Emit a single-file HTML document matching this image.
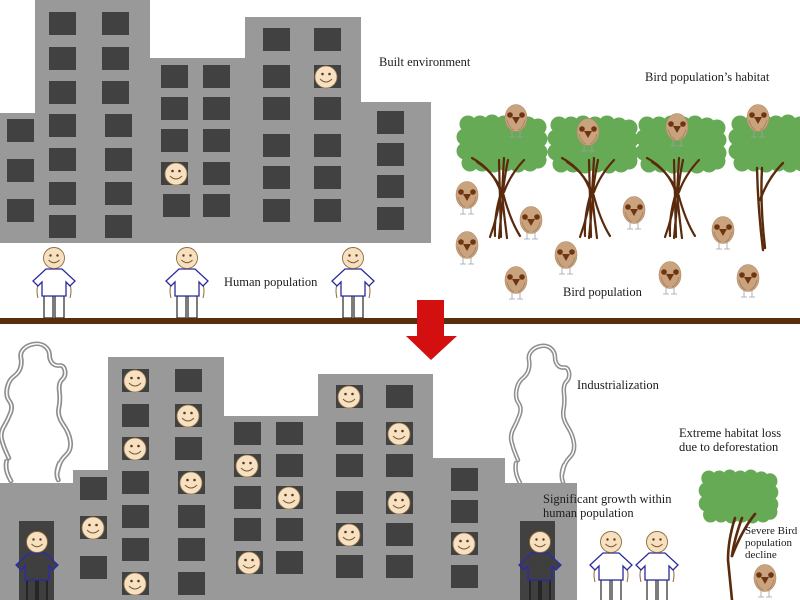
<!DOCTYPE html>
<html><head><meta charset="utf-8"><style>
html,body{margin:0;padding:0;background:#fff;}
svg{display:block;}
text{font-family:"Liberation Serif",serif;font-size:12.5px;fill:#1c1c1c;}
</style></head><body>
<svg width="800" height="600" viewBox="0 0 800 600" xmlns="http://www.w3.org/2000/svg">
<defs>
<g id="face">
<circle r="11" fill="#f7e1c2" stroke="#9a7a4a" stroke-width="0.8"/>
<circle cx="-3.5" cy="-3" r="1.3" fill="#5a3a1a"/><circle cx="3.5" cy="-3" r="1.3" fill="#5a3a1a"/>
<path d="M-6,2 Q0,8 6,2" fill="none" stroke="#7a5a30" stroke-width="1"/>
</g>
<g id="human">
<path d="M-16,26 Q-18,33 -16,40 M16,26 Q18,33 16,40" fill="none" stroke="#8a6a30" stroke-width="1"/>
<rect x="-10" y="38" width="9" height="22" fill="#fff" stroke="#111" stroke-width="1.1"/>
<rect x="1" y="38" width="9" height="22" fill="#fff" stroke="#111" stroke-width="1.1"/>
<polygon points="-8,11 8,11 21,23 16,28 12,24 12,38 -12,38 -12,24 -16,28 -21,23" fill="#fff" stroke="#2a2aa0" stroke-width="1.3"/>
<circle r="10.5" fill="#f7e0c0" stroke="#8a6a3a" stroke-width="0.9"/>
<circle cx="-3.5" cy="-2.5" r="1.2" fill="#5a3a1a"/><circle cx="3.5" cy="-2.5" r="1.2" fill="#5a3a1a"/>
<path d="M-5.5,2 Q0,7.5 5.5,2" fill="none" stroke="#7a5a30" stroke-width="1"/>
</g>
<g id="humandark">
<rect x="-10" y="38" width="9" height="22" fill="#3f3f3f" stroke="#111" stroke-width="1.1"/>
<rect x="1" y="38" width="9" height="22" fill="#3f3f3f" stroke="#111" stroke-width="1.1"/>
<polygon points="-8,11 8,11 21,23 16,28 12,24 12,38 -12,38 -12,24 -16,28 -21,23" fill="#3f3f3f" stroke="#2a2ab0" stroke-width="1.3"/>
<circle r="10.5" fill="#f7e0c0" stroke="#8a6a3a" stroke-width="0.9"/>
<circle cx="-3.5" cy="-2.5" r="1.2" fill="#5a3a1a"/><circle cx="3.5" cy="-2.5" r="1.2" fill="#5a3a1a"/>
<path d="M-5.5,2 Q0,7.5 5.5,2" fill="none" stroke="#7a5a30" stroke-width="1"/>
</g>
<g id="bird">
<path d="M-4,12 L-4,19 M4,12 L4,19 M-7,19 L-1,19 M1,19 L7,19" stroke="#9aa0a8" stroke-width="0.8" fill="none"/>
<ellipse rx="11" ry="13.5" fill="#c9a27e" stroke="#b08a66" stroke-width="0.6"/>
<path d="M-9,2 Q-7,10 -2,12 M9,2 Q7,10 2,12" fill="none" stroke="#a87f5c" stroke-width="0.8"/>
<circle cx="-6" cy="-3" r="2.8" fill="#6e3510"/><circle cx="6" cy="-3" r="2.8" fill="#6e3510"/>
<polygon points="-4,-1 4,-1 0,6" fill="#6e3510"/>
</g>
<g id="crown" fill="#67aa55">
<rect x="6" y="8" width="76" height="42"/>
<circle cx="10" cy="9" r="8.5"/><circle cx="22" cy="9" r="8.5"/><circle cx="34" cy="8" r="8.5"/><circle cx="46" cy="9" r="8.5"/><circle cx="58" cy="8" r="8.5"/><circle cx="70" cy="10" r="8.5"/><circle cx="80" cy="12" r="8.5"/>
<circle cx="7" cy="22" r="8.5"/><circle cx="7" cy="36" r="8.5"/><circle cx="81" cy="24" r="8.5"/><circle cx="81" cy="37" r="8.5"/>
<circle cx="12" cy="48" r="8.5"/><circle cx="24" cy="48" r="8.5"/><circle cx="36" cy="49" r="8.5"/><circle cx="48" cy="48" r="8.5"/><circle cx="60" cy="49" r="8.5"/><circle cx="72" cy="48" r="8.5"/><circle cx="80" cy="45" r="8.5"/>
</g>
<g id="trunk" fill="none" stroke="#5a2a0c" stroke-width="2.2" stroke-linecap="round">
<path d="M-30,158 Q-8,170 -1,193 Q-4,215 -12,237"/>
<path d="M-25,162 Q-5,175 1,195 L-3,238"/>
<path d="M2,158 L0,193 Q2,215 5,238"/>
<path d="M6,160 Q2,180 1,193 Q8,220 18,236"/>
<path d="M22,160 Q8,175 2,192"/>
<path d="M-3,160 L-1,237"/>
<path d="M-1,193 Q-8,215 -7,236"/>
</g>
<path id="smokepath" d="M518,460 L515.5,454 Q513,448 511.5,441.5 Q510,435 513.5,428.5 Q517,422 519.5,415 Q522,408 518.5,403 Q515,398 516.5,390 Q518,382 522.5,378.5 Q527,375 528.5,370 Q530,365 529,360 Q528,355 531.5,351 Q535,347 541,346 Q547,345 551,348.5 Q555,352 555,357 Q555,362 557.5,365 Q560,368 564,367.5 Q568,367 569,372.5 Q570,378 566.5,381.5 Q563,385 564,393.5 Q565,402 563.5,410 Q562,418 567.5,426.5 Q573,435 574,443.5 Q575,452 570,457 Q565,462 563.5,468.5 L562,475 M516,463 Q514,472 520,483 M564,465 Q560,475 563,482"/>
<g id="smoke">
<use href="#smokepath" fill="none" stroke="#8f8f8f" stroke-width="4.5" stroke-linejoin="round" stroke-linecap="round"/>
<use href="#smokepath" fill="none" stroke="#fff" stroke-width="1.4" stroke-linejoin="round" stroke-linecap="round"/>
</g>
</defs>

<!-- TOP SECTION -->
<polygon points="0,113 35,113 35,0 150,0 150,58 245,58 245,17 361,17 361,102 431,102 431,243 0,243" fill="#999999"/>
<g fill="#414141">
<rect x="49" y="12" width="27" height="23"/><rect x="49" y="47" width="27" height="23"/><rect x="49" y="81" width="27" height="23"/><rect x="49" y="114" width="27" height="23"/><rect x="49" y="148" width="27" height="23"/><rect x="49" y="182" width="27" height="23"/><rect x="49" y="215" width="27" height="23"/>
<rect x="102" y="12" width="27" height="23"/><rect x="102" y="47" width="27" height="23"/><rect x="102" y="81" width="27" height="23"/><rect x="105" y="114" width="27" height="23"/><rect x="105" y="148" width="27" height="23"/><rect x="105" y="182" width="27" height="23"/><rect x="105" y="215" width="27" height="23"/>
<rect x="7" y="119" width="27" height="23"/><rect x="7" y="159" width="27" height="23"/><rect x="7" y="199" width="27" height="23"/>
<rect x="161" y="65" width="27" height="23"/><rect x="161" y="97" width="27" height="23"/><rect x="161" y="129" width="27" height="23"/><rect x="161" y="162" width="27" height="23"/><rect x="163" y="194" width="27" height="23"/>
<rect x="203" y="65" width="27" height="23"/><rect x="203" y="97" width="27" height="23"/><rect x="203" y="129" width="27" height="23"/><rect x="203" y="162" width="27" height="23"/><rect x="203" y="194" width="27" height="23"/>
<rect x="263" y="28" width="27" height="23"/><rect x="263" y="65" width="27" height="23"/><rect x="263" y="97" width="27" height="23"/><rect x="263" y="134" width="27" height="23"/><rect x="263" y="166" width="27" height="23"/><rect x="263" y="199" width="27" height="23"/>
<rect x="314" y="28" width="27" height="23"/><rect x="314" y="65" width="27" height="23"/><rect x="314" y="97" width="27" height="23"/><rect x="314" y="134" width="27" height="23"/><rect x="314" y="166" width="27" height="23"/><rect x="314" y="199" width="27" height="23"/>
<rect x="377" y="111" width="27" height="23"/><rect x="377" y="143" width="27" height="23"/><rect x="377" y="175" width="27" height="23"/><rect x="377" y="207" width="27" height="23"/>
</g>
<use href="#face" x="176" y="174"/>
<use href="#face" x="326" y="77"/>

<use href="#human" x="54" y="258"/>
<use href="#human" x="187" y="258"/>
<use href="#human" x="353" y="258"/>

<text x="379" y="66">Built environment</text>
<text x="224" y="286">Human population</text>
<text x="645" y="81">Bird population’s habitat</text>
<text x="563" y="296">Bird population</text>

<!-- trees -->
<use href="#crown" x="458" y="115"/>
<use href="#crown" x="549" y="116"/>
<use href="#crown" x="637" y="116"/>
<use href="#crown" x="730" y="115"/>
<use href="#trunk" x="502" y="0"/>
<use href="#trunk" x="592" y="0"/>
<use href="#trunk" x="677" y="0"/>
<g fill="none" stroke="#5a2a0c" stroke-width="2.4" stroke-linecap="round">
<path d="M757,168 Q758,210 763,250"/>
<path d="M762,168 Q760,205 765,248"/>
<path d="M783,163 Q768,178 760,200"/>
</g>

<!-- birds -->
<use href="#bird" x="516" y="118"/>
<use href="#bird" x="588" y="132"/>
<use href="#bird" x="677" y="127"/>
<use href="#bird" x="758" y="118"/>
<use href="#bird" x="467" y="195"/>
<use href="#bird" x="531" y="220"/>
<use href="#bird" x="467" y="245"/>
<use href="#bird" x="566" y="255"/>
<use href="#bird" x="516" y="280"/>
<use href="#bird" x="634" y="210"/>
<use href="#bird" x="723" y="230"/>
<use href="#bird" x="670" y="275"/>
<use href="#bird" x="748" y="278"/>

<!-- divider + arrow -->
<rect x="0" y="318" width="800" height="6" fill="#5a2e0b"/>
<polygon points="417,300 444,300 444,336 457,336 431,360 406,336 417,336" fill="#d40f10"/>

<!-- BOTTOM SECTION -->
<use href="#smoke"/>
<use href="#smoke" transform="translate(-561,-2) scale(1.1,1)"/>
<polygon points="0,483 73,483 73,470 108,470 108,357 224,357 224,416 318,416 318,374 433,374 433,458 505,458 505,483 577,483 577,600 0,600" fill="#999999"/>
<g fill="#414141">
<rect x="19" y="521" width="35" height="79"/><rect x="520" y="521" width="35" height="79"/>
<rect x="80" y="477" width="27" height="23"/><rect x="80" y="516" width="27" height="23"/><rect x="80" y="556" width="27" height="23"/>
<rect x="122" y="369" width="27" height="23"/><rect x="122" y="404" width="27" height="23"/><rect x="122" y="437" width="27" height="23"/><rect x="122" y="471" width="27" height="23"/><rect x="122" y="505" width="27" height="23"/><rect x="122" y="538" width="27" height="23"/><rect x="122" y="572" width="27" height="23"/>
<rect x="175" y="369" width="27" height="23"/><rect x="175" y="404" width="27" height="23"/><rect x="175" y="437" width="27" height="23"/><rect x="178" y="471" width="27" height="23"/><rect x="178" y="505" width="27" height="23"/><rect x="178" y="538" width="27" height="23"/><rect x="178" y="572" width="27" height="23"/>
<rect x="234" y="422" width="27" height="23"/><rect x="234" y="454" width="27" height="23"/><rect x="234" y="486" width="27" height="23"/><rect x="234" y="518" width="27" height="23"/><rect x="236" y="551" width="27" height="23"/>
<rect x="276" y="422" width="27" height="23"/><rect x="276" y="454" width="27" height="23"/><rect x="276" y="486" width="27" height="23"/><rect x="276" y="518" width="27" height="23"/><rect x="276" y="551" width="27" height="23"/>
<rect x="336" y="385" width="27" height="23"/><rect x="336" y="422" width="27" height="23"/><rect x="336" y="454" width="27" height="23"/><rect x="336" y="491" width="27" height="23"/><rect x="336" y="523" width="27" height="23"/><rect x="336" y="555" width="27" height="23"/>
<rect x="386" y="385" width="27" height="23"/><rect x="386" y="422" width="27" height="23"/><rect x="386" y="454" width="27" height="23"/><rect x="386" y="491" width="27" height="23"/><rect x="386" y="523" width="27" height="23"/><rect x="386" y="555" width="27" height="23"/>
<rect x="451" y="468" width="27" height="23"/><rect x="451" y="500" width="27" height="23"/><rect x="451" y="532" width="27" height="23"/><rect x="451" y="565" width="27" height="23"/>
</g>
<use href="#face" x="93" y="528"/>
<use href="#face" x="135" y="381"/>
<use href="#face" x="188" y="416"/>
<use href="#face" x="135" y="449"/>
<use href="#face" x="191" y="483"/>
<use href="#face" x="135" y="584"/>
<use href="#face" x="247" y="466"/>
<use href="#face" x="289" y="498"/>
<use href="#face" x="249" y="563"/>
<use href="#face" x="349" y="397"/>
<use href="#face" x="399" y="434"/>
<use href="#face" x="399" y="503"/>
<use href="#face" x="349" y="535"/>
<use href="#face" x="464" y="544"/>

<use href="#humandark" x="37" y="542"/>
<use href="#humandark" x="540" y="542"/>
<use href="#human" x="611" y="542"/>
<use href="#human" x="657" y="542"/>

<!-- bottom tree -->
<use href="#crown" transform="translate(700,470) scale(0.875,0.93)"/>
<g fill="none" stroke="#5a2a0c" stroke-width="2.6" stroke-linecap="round">
<path d="M735,518 Q728,540 728,560 Q730,580 732,600"/>
<path d="M742,518 Q734,540 732,556"/>
<path d="M755,514 Q742,530 732,556"/>
</g>
<use href="#bird" x="765" y="578"/>

<text x="577" y="389">Industrialization</text>
<text x="679" y="437">Extreme habitat loss</text>
<text x="679" y="451">due to deforestation</text>
<text x="543" y="503">Significant growth within</text>
<text x="543" y="517">human population</text>
<text x="745" y="534" style="font-size:11px">Severe Bird</text>
<text x="745" y="546" style="font-size:11px">population</text>
<text x="745" y="558" style="font-size:11px">decline</text>
</svg>
</body></html>
